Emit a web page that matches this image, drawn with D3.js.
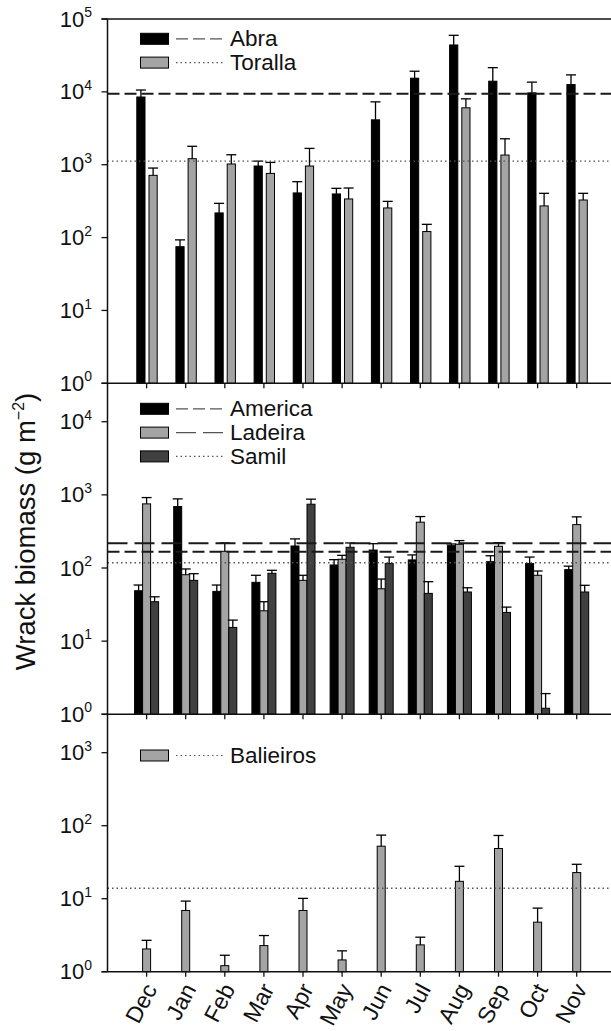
<!DOCTYPE html>
<html><head><meta charset="utf-8">
<script src="https://cdn.jsdelivr.net/npm/d3@7"></script>
<style>
body{margin:0;background:#fff}
text{font-family:"Liberation Sans",Arial,sans-serif;fill:#111}
</style></head>
<body><svg id="c" width="611" height="1031"></svg>
<script>
const months = ["Dec","Jan","Feb","Mar","Apr","May","Jun","Jul","Aug","Sep","Oct","Nov"];

// Panel 1
const abra      = [8500, 75, 218, 960, 410, 397, 4130, 15400, 44000, 14000, 9690, 12600];
const abraUp    = [10600, 93, 295, 1120, 585, 474, 7290, 19200, 59700, 21500, 13600, 17100];
const toralla   = [715, 1210, 1023, 760, 960, 339, 255, 121, 6040, 1358, 272, 328];
const torallaUp = [900, 1790, 1370, 1076, 1675, 479, 314, 152, 8020, 2270, 405, 405];
// Panel 2
const america   = [48.9, 692, 47.9, 63.7, 200, 110, 176, 129, 202, 122, 115, 95];
const americaUp = [58.5, 881, 58.5, 79.5, 250, 130, 215, 151, 213, 147, 141, 106];
const ladeira   = [753, 81, 169, 26, 67.8, 131.6, 52, 423, 211, 198, 79.5, 392];
const ladeiraUp = [918, 97, 220, 34.6, 79.5, 149, 70.6, 505, 237, 222, 91, 500];
const samil     = [34.6, 67.8, 15.4, 84.6, 745, 192, 115, 45, 47, 24.7, 1.21, 47];
const samilUp   = [40.4, 83.6, 19.4, 93, 873, 220, 141, 65, 53.7, 29.2, 1.92, 58];
// Panel 3
const balieiros   = [2.05, 6.9, 1.21, 2.28, 6.9, 1.45, 52.4, 2.33, 17.3, 48.7, 4.77, 22.8];
const balieirosUp = [2.69, 9.27, 1.68, 3.13, 10.1, 1.93, 74.3, 2.97, 27.8, 73.5, 7.43, 29.6];
// Site means (reference lines)
const meanAbra = 9440, meanToralla = 1120;
const meanAmerica = 167, meanLadeira = 218, meanSamil = 118;
const meanBalieiros = 13.9;
const yTitle = "Wrack biomass (g m";

const svg = d3.select("#c");
const AX = 107.5, RIGHT = 611;
const x = d3.scalePoint().domain(months).range([AX, 615.8]).padding(1);

const LIGHT = "#a4a4a4", DARK = "#404040", BLACK = "#000";
const DASH_S = "12,5", DASH_L = "20,7", DOT = "1.5,3";

const panels = [
  {top:19, bottom:383.3, max:1e5, decades:5,
   series:[{name:"Abra", v:abra, up:abraUp, fill:BLACK, mean:meanAbra, dash:DASH_S, w:2},
           {name:"Toralla", v:toralla, up:torallaUp, fill:LIGHT, mean:meanToralla, dash:DOT, w:1.4}],
   offsets:[[-9.8,8.2],[2.4,8.2]], legendY:33.3},
  {top:383.3, bottom:714.3, max:Math.pow(10,4.525), decades:4,
   series:[{name:"America", v:america, up:americaUp, fill:BLACK, mean:meanAmerica, dash:DASH_S, w:2},
           {name:"Ladeira", v:ladeira, up:ladeiraUp, fill:LIGHT, mean:meanLadeira, dash:DASH_L, w:2},
           {name:"Samil", v:samil, up:samilUp, fill:DARK, mean:meanSamil, dash:DOT, w:1.4}],
   offsets:[[-12,8],[-4,8],[4,8]], legendY:403.3},
  {top:714.3, bottom:971.7, max:Math.pow(10,3.526), decades:3,
   series:[{name:"Balieiros", v:balieiros, up:balieirosUp, fill:LIGHT, mean:meanBalieiros, dash:DOT, w:1.4}],
   offsets:[[-4,8]], legendY:750}
];

panels.forEach(p => {
  const y = d3.scaleLog().domain([1, p.max]).range([p.bottom, p.top]);
  const g = svg.append("g");
  p.series.forEach((s, si) => {
    const [off, bw] = p.offsets[si];
    months.forEach((m, i) => {
      const x0 = x(m) + off;
      g.append("rect").attr("x", x0).attr("width", bw)
        .attr("y", y(s.v[i])).attr("height", y(1) - y(s.v[i]))
        .attr("fill", s.fill).attr("stroke", "#000").attr("stroke-width", 1);
      const cx = x0 + bw/2;
      g.append("line").attr("x1", cx).attr("x2", cx)
        .attr("y1", y(s.v[i])).attr("y2", y(s.up[i]))
        .attr("stroke", "#000").attr("stroke-width", 1.3);
      g.append("line").attr("x1", cx-5).attr("x2", cx+5)
        .attr("y1", y(s.up[i])).attr("y2", y(s.up[i]))
        .attr("stroke", "#000").attr("stroke-width", 1.3);
    });
  });
  p.series.forEach(s => {
    g.append("line").attr("x1", AX).attr("x2", RIGHT)
      .attr("y1", y(s.mean)).attr("y2", y(s.mean))
      .attr("stroke", s.dash === DOT ? "#555" : "#1a1a1a")
      .attr("stroke-width", s.w).attr("stroke-dasharray", s.dash);
  });
  g.append("line").attr("x1", AX).attr("x2", AX).attr("y1", p.top).attr("y2", p.bottom)
    .attr("stroke", "#111").attr("stroke-width", 1.5);
  const tks = d3.range(0, p.decades + 1).map(k => Math.pow(10, k));
  tks.forEach((t, k) => {
    g.append("line").attr("x1", AX - 6).attr("x2", AX).attr("y1", y(t)).attr("y2", y(t))
      .attr("stroke", "#111").attr("stroke-width", 1.3);
    const tx = g.append("text").attr("x", 92).attr("y", y(t) + 7.6)
      .attr("text-anchor", "end").style("font-size", "22px");
    tx.append("tspan").text("10");
    tx.append("tspan").attr("dy", -9.5).style("font-size", "14px").text(String(k));
  });
  g.append("line").attr("x1", AX - 6).attr("x2", RIGHT).attr("y1", p.bottom).attr("y2", p.bottom)
    .attr("stroke", "#111").attr("stroke-width", 1.5);
  months.forEach(m => {
    g.append("line").attr("x1", x(m)).attr("x2", x(m)).attr("y1", p.bottom).attr("y2", p.bottom + 5)
      .attr("stroke", "#111").attr("stroke-width", 1.3);
  });
  p.series.forEach((s, si) => {
    const ly = p.legendY + si * 23.8;
    g.append("rect").attr("x", 140.5).attr("y", ly).attr("width", 28).attr("height", 11)
      .attr("fill", s.fill).attr("stroke", "#000").attr("stroke-width", 1);
    g.append("line").attr("x1", 176).attr("x2", 223).attr("y1", ly + 5.5).attr("y2", ly + 5.5)
      .attr("stroke", "#555").attr("stroke-width", s.dash === DOT ? 1.2 : 1.3)
      .attr("stroke-dasharray", s.dash);
    g.append("text").attr("x", 230).attr("y", ly + 12.6).style("font-size", "22.5px").text(s.name);
  });
});
svg.append("line").attr("x1", AX - 6).attr("x2", RIGHT).attr("y1", 19).attr("y2", 19)
  .attr("stroke", "#111").attr("stroke-width", 1.5);

months.forEach(m => {
  svg.append("text").attr("transform", `translate(${x(m) + 11},${989}) rotate(-62)`)
    .attr("text-anchor", "end").style("font-size", "23px").text(m);
});

const yt = svg.append("text").attr("transform", "translate(35,531.5) rotate(-90)")
  .attr("text-anchor", "middle").style("font-size", "27.5px");
yt.append("tspan").text(yTitle);
yt.append("tspan").attr("dy", -11).style("font-size", "16px").text("\u22122");
yt.append("tspan").attr("dy", 11).text(")");
</script>
</body></html>
